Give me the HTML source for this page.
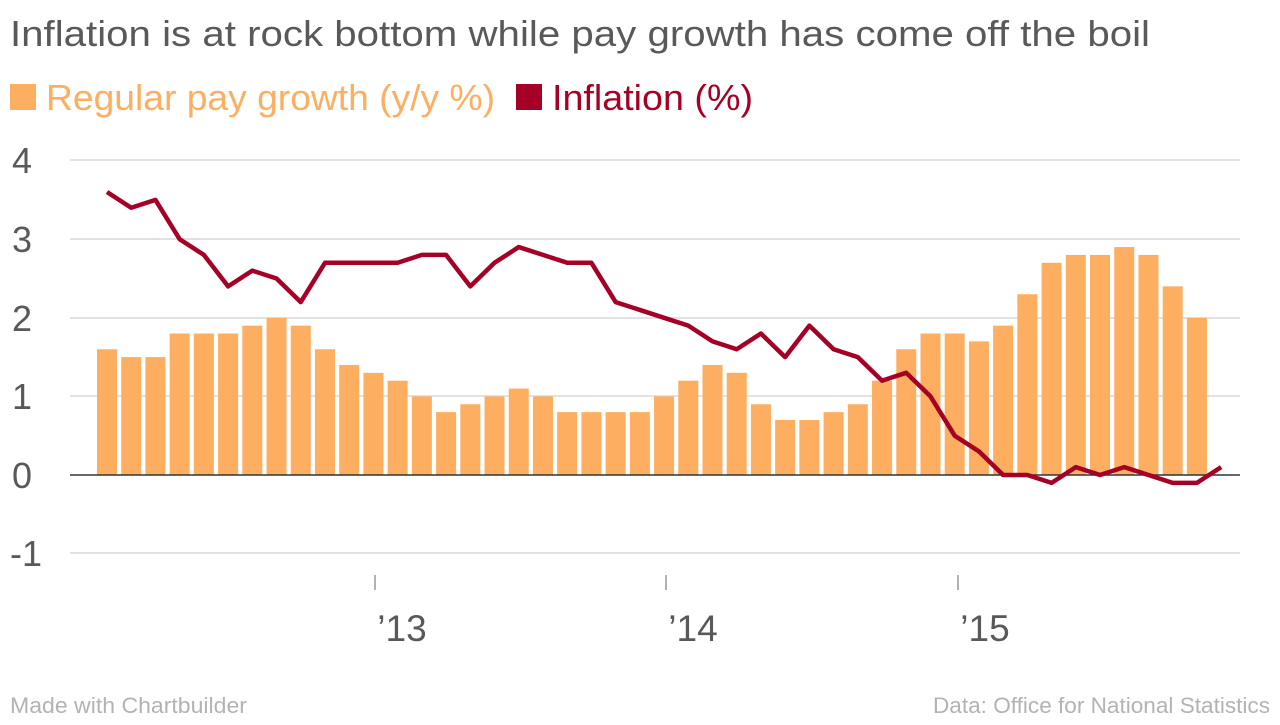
<!DOCTYPE html>
<html><head><meta charset="utf-8"><style>
body{margin:0;background:#fff;width:1280px;height:720px;overflow:hidden;font-family:"Liberation Sans",sans-serif}
</style></head><body>
<svg width="1280" height="720" xmlns="http://www.w3.org/2000/svg" font-family="Liberation Sans, sans-serif">
<text x="10" y="46" font-size="36" fill="#595959" textLength="1140" lengthAdjust="spacingAndGlyphs">Inflation is at rock bottom while pay growth has come off the boil</text>
<rect x="10" y="84" width="26" height="26" fill="#fdae61"/>
<text x="46" y="110" font-size="36" fill="#fdae61" textLength="449" lengthAdjust="spacingAndGlyphs">Regular pay growth (y/y %)</text>
<rect x="516" y="84" width="26" height="26" fill="#a50026"/>
<text x="552" y="110" font-size="36" fill="#a50026" textLength="201" lengthAdjust="spacingAndGlyphs">Inflation (%)</text>
<g stroke="#d9d9d9" stroke-width="1.5">
<line x1="70" x2="1240" y1="160" y2="160"/><line x1="70" x2="1240" y1="239" y2="239"/>
<line x1="70" x2="1240" y1="318" y2="318"/><line x1="70" x2="1240" y1="396" y2="396"/>
<line x1="70" x2="1240" y1="553" y2="553"/>
</g>
<g font-size="36" fill="#595959">
<text x="12" y="173">4</text><text x="12" y="252">3</text><text x="12" y="331">2</text>
<text x="12" y="409">1</text><text x="12" y="488">0</text><text x="10" y="566">-1</text>
</g>
<g id="bars" fill="#fdae61"></g>
<line x1="70" x2="1240" y1="475" y2="475" stroke="#333" stroke-width="1.5"/>
<polyline id="ln" fill="none" stroke="#a50026" stroke-width="4.5" stroke-linejoin="round"/>
<g stroke="#999" stroke-width="1.5">
<line x1="375" x2="375" y1="575" y2="590"/><line x1="666" x2="666" y1="575" y2="590"/><line x1="958" x2="958" y1="575" y2="590"/>
</g>
<g font-size="37" fill="#595959" text-anchor="middle">
<text x="402" y="641">’13</text><text x="693" y="641">’14</text><text x="985" y="641">’15</text>
</g>
<text x="10" y="713" font-size="22" fill="#b3b3b3" textLength="237" lengthAdjust="spacingAndGlyphs">Made with Chartbuilder</text>
<text x="933" y="713" font-size="22" fill="#b3b3b3" textLength="337" lengthAdjust="spacingAndGlyphs">Data: Office for National Statistics</text>
</svg>
<script>
var b=[1.6,1.5,1.5,1.8,1.8,1.8,1.9,2.0,1.9,1.6,1.4,1.3,1.2,1.0,0.8,0.9,1.0,1.1,1.0,0.8,0.8,0.8,0.8,1.0,1.2,1.4,1.3,0.9,0.7,0.7,0.8,0.9,1.2,1.6,1.8,1.8,1.7,1.9,2.3,2.7,2.8,2.8,2.9,2.8,2.4,2.0];
var l=[3.6,3.4,3.5,3.0,2.8,2.4,2.6,2.5,2.2,2.7,2.7,2.7,2.7,2.8,2.8,2.4,2.7,2.9,2.8,2.7,2.7,2.2,2.1,2.0,1.9,1.7,1.6,1.8,1.5,1.9,1.6,1.5,1.2,1.3,1.0,0.5,0.3,0.0,0.0,-0.1,0.1,0.0,0.1,0.0,-0.1,-0.1,0.1];
var X=function(i){return 107+i*24.22},Y=function(v){return 475-v*78.6};
var g=document.getElementById('bars'),ns='http://www.w3.org/2000/svg';
b.forEach(function(v,i){var r=document.createElementNS(ns,'rect');r.setAttribute('x',X(i)-10);r.setAttribute('width',20);r.setAttribute('y',Y(v));r.setAttribute('height',v*78.6);g.appendChild(r);});
document.getElementById('ln').setAttribute('points',l.map(function(v,i){return X(i)+','+Y(v)}).join(' '));
</script>
</body></html>
